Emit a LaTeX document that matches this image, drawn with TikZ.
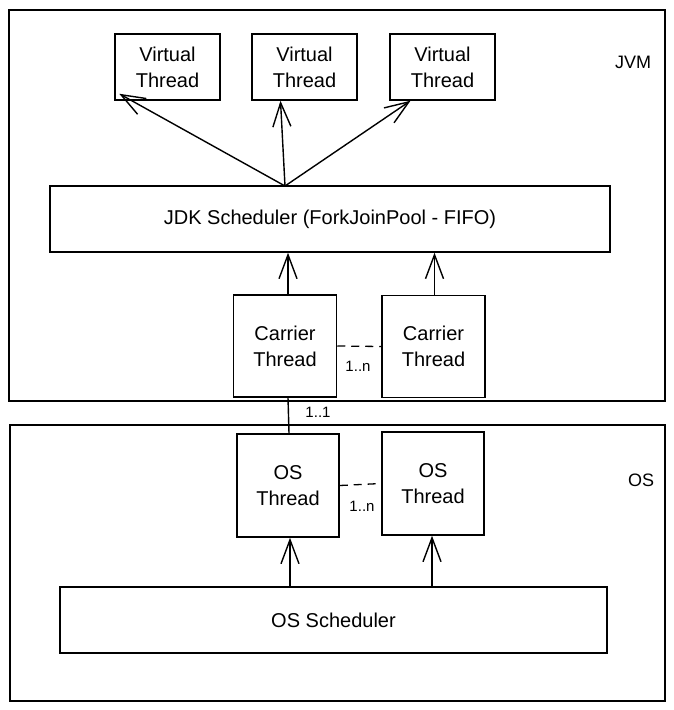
\documentclass[tikz,border=0pt]{standalone}
\usepackage{fontspec}
\setmainfont{Liberation Sans}
\usetikzlibrary{arrows.meta,calc}
\begin{document}
\begin{tikzpicture}[x=1pt,y=-1pt,
  box/.style={draw,line width=1.5pt,inner sep=0pt,align=center,font=\fontsize{20}{26}\selectfont},
  frame/.style={draw,line width=1.5pt},
  arr/.style={line width=1.4pt,-{Straight Barb[length=24pt,width=18pt,line width=1.4pt]}},
  lnk/.style={line width=1.4pt},
  dsh/.style={line width=1.3pt,dash pattern=on 8pt off 6pt},
  lbl/.style={font=\fontsize{15}{18}\selectfont,inner sep=0pt},
  side/.style={font=\fontsize{18}{20}\selectfont,inner sep=0pt}]
\useasboundingbox (0,0) rectangle (674,710);
\fill[white] (0,0) rectangle (674,710);
% frames
\draw[frame] (9,10) rectangle (665,401);
\draw[frame] (10,425) rectangle (665,701);
\node[side] (jvm) at (633,62) {JVM};
\node[side] (os) at (641,480) {OS};
% virtual threads
\node[box,minimum width=105pt,minimum height=66pt] (VT1) at (167.5,67) {Virtual\\Thread};
\node[box,minimum width=105pt,minimum height=66pt] (VT2) at (304.5,67) {Virtual\\Thread};
\node[box,minimum width=105pt,minimum height=66pt] (VT3) at (442.5,67) {Virtual\\Thread};
% scheduler
\node[box,minimum width=560pt,minimum height=66pt] (JDK) at (330,219) {JDK Scheduler (ForkJoinPool - FIFO)};
% carriers
\node[box,minimum width=103pt,minimum height=102pt] (CT1) at (285,346) {Carrier\\Thread};
\node[box,minimum width=103pt,minimum height=102pt] (CT2) at (433.5,346.5) {Carrier\\Thread};
% OS threads
\node[box,minimum width=102pt,minimum height=103pt] (OT1) at (288,485.5) {OS\\Thread};
\node[box,minimum width=102pt,minimum height=103pt] (OT2) at (433,483.5) {OS\\Thread};
% OS scheduler
\node[box,minimum width=547pt,minimum height=66pt] (OSS) at (333.5,620) {OS Scheduler};
% arrows top
\coordinate (hub) at (285,186);
\draw[arr] (hub) -- ($(VT1.south west)+(5,-7)$);
\draw[arr] (hub) -- ($(VT2.south)+(-24,0)$);
\draw[arr] (hub) -- ($(VT3.south)+(-32,0)$);
% carrier arrows
\draw[arr] ($(CT1.north)+(3,0)$) -- ($(CT1.north |- JDK.south)+(3,0)$);
\draw[arr] ($(CT2.north)+(1,0)$) -- ($(CT2.north |- JDK.south)+(1,0)$);
% dashed links
\draw[dsh] (CT1.east) -- (CT2.west);
\node[lbl] (n1) at (358,366) {1..n};
\draw[dsh] (OT1.east) -- (OT2.west);
\node[lbl] (n2) at (362,506) {1..n};
% 1..1 link
\draw[lnk] ($(CT1.south)+(3,0)$) -- ($(OT1.north)+(1,0)$);
\node[lbl] (n3) at (318,412) {1..1};
% OS arrows
\draw[arr] ($(OSS.north -| OT1.south)+(2,0)$) -- ($(OT1.south)+(2,0)$);
\draw[arr] ($(OSS.north -| OT2.south)+(-1,0)$) -- ($(OT2.south)+(-1,0)$);
\end{tikzpicture}
\end{document}
